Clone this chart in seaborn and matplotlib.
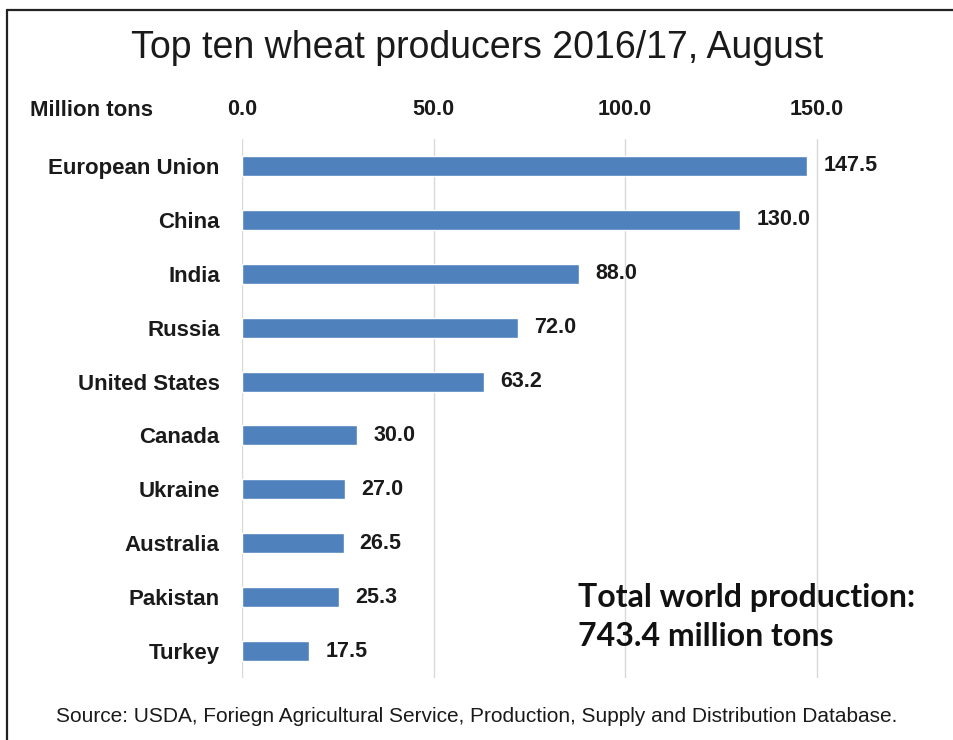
import pandas as pd
import seaborn as sns
import matplotlib.pyplot as plt
from matplotlib.lines import Line2D

# Data (million tons)
countries = ["European Union", "China", "India", "Russia", "United States",
             "Canada", "Ukraine", "Australia", "Pakistan", "Turkey"]
production = [147.5, 130.0, 88.0, 72.0, 63.2, 30.0, 27.0, 26.5, 25.3, 17.5]
tick_values = [0, 50, 100, 150]

df = pd.DataFrame({"country": countries, "production": production})

sns.set_theme(style="white")
plt.rcParams["font.family"] = ["Liberation Sans", "DejaVu Sans"]

fig = plt.figure(figsize=(9.54, 7.4), dpi=100)
ax = fig.add_axes([0.2537, 0.0838, 0.6426, 0.7284])

sns.barplot(data=df, x="production", y="country", orient="h",
            color="#4F81BD", width=0.37, saturation=1, ax=ax)

ax.set_xlim(0, 160)
ax.set_ylim(9.5, -0.5)
ax.set_xticks(tick_values)
ax.set_xticklabels([f"{v:.1f}" for v in tick_values], fontsize=15.5,
                   fontweight="bold", color="#1a1a1a")
ax.xaxis.tick_top()
ax.tick_params(axis="x", length=0, pad=14)
ax.tick_params(axis="y", length=0, pad=16)
for lbl in ax.get_yticklabels():
    lbl.set_fontsize(16)
    lbl.set_fontweight("bold")
    lbl.set_color("#1a1a1a")
ax.set_xlabel("")
ax.set_ylabel("")
ax.grid(axis="x", color="#D9D9D9", linewidth=1)
ax.set_axisbelow(True)
sns.despine(ax=ax, left=True, bottom=True, top=True, right=True)

# value labels
for i, v in enumerate(production):
    ax.text(v + 4.2, i, f"{v:.1f}", va="center", ha="left",
            fontsize=15.5, fontweight="bold", color="#1a1a1a")

fig.text(0.5, 1 - 48 / 740, "Top ten wheat producers 2016/17, August",
         ha="center", va="center", fontsize=27, color="#1a1a1a")
fig.text(30 / 954, 1 - 110 / 740, "Million tons", ha="left", va="center",
         fontsize=16, fontweight="bold", color="#1a1a1a")

fig.text(578 / 954, 1 - 597 / 740, "Total world production:", ha="left",
         va="center", fontsize=23, fontweight="bold",
         family=["Lato", "DejaVu Sans"], color="#111111")
fig.text(578 / 954, 1 - 637 / 740, "743.4 million tons", ha="left",
         va="center", fontsize=23, fontweight="bold",
         family=["Lato", "DejaVu Sans"], color="#111111")

fig.text(477 / 954, 1 - 717 / 740,
         "Source: USDA, Foriegn Agricultural Service, Production, Supply and Distribution Database.",
         ha="center", va="center", fontsize=15, color="#1a1a1a")

# frame (left and top edges visible)
fig.add_artist(Line2D([7 / 954, 7 / 954], [0, 1 - 10 / 740],
                      transform=fig.transFigure, color="#222222", linewidth=1.6))
fig.add_artist(Line2D([7 / 954, 1], [1 - 10 / 740, 1 - 10 / 740],
                      transform=fig.transFigure, color="#222222", linewidth=1.6))

fig.savefig("out.png", dpi=100)
